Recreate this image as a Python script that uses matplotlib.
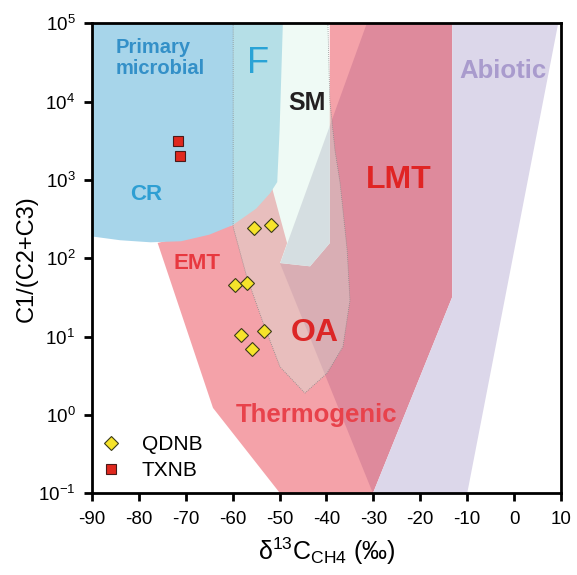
import numpy as np
import matplotlib
matplotlib.use("Agg")
import matplotlib.pyplot as plt
from matplotlib.patches import Polygon

plt.rcParams["font.family"] = ["Liberation Sans", "DejaVu Sans"]
plt.rcParams["mathtext.fontset"] = "custom"
plt.rcParams["mathtext.rm"] = "Liberation Sans"
plt.rcParams["mathtext.it"] = "Liberation Sans:italic"

# genetic fields (d13C, C1/(C2+C3))
cr_x = [-90, -90, -84, -77.5, -71, -65, -60, -55, -52, -50.5, -50, -49.3]
cr_y = [1e5, 190, 170, 160, 165, 200, 265, 430, 680, 940, 4300, 1e5]

thermo_x = [-76, -64.2, -49.9, -30.1, -31.4, -45, -52, -60]
thermo_y = [157, 1.23, 0.1, 0.1, 1e5, 1e5, 700, 265]

lmt_x = [-31.4, -13.2, -13.2, -30.1, -49.9]
lmt_y = [1e5, 1e5, 32, 0.1, 86]

abio_x = [-13.2, 9.4, -10.0, -30.1, -13.2]
abio_y = [1e5, 1e5, 0.1, 0.1, 32]

sm_x = [-52, -49.3, -39.3, -39.3, -43.5, -49.9, -48.4, -51.6]
sm_y = [1e5, 1e5, 1e5, 156, 79, 87, 156, 790]

oa_x = [-59.9, -59.9, -57.0, -53.5, -49.9, -44.6, -39.9, -36.5, -35.0, -35.6, -37.1, -38.2, -39.3, -39.7]
oa_y = [1e5, 251, 58, 15, 4.1, 1.9, 3.4, 7.4, 29, 128, 914, 2410, 10500, 1e5]

# samples
qdnb_x = [-55.4, -51.8, -59.5, -56.9, -58.3, -53.3, -55.8]
qdnb_y = [241, 267, 45.6, 48, 10.4, 11.7, 6.9]
txnb_x = [-71.6, -71.3]
txnb_y = [3170, 2020]

xticks = list(range(-90, 11, 10))
yticks = [1e-1, 1e0, 1e1, 1e2, 1e3, 1e4, 1e5]
ytick_labels = ["$10^{-1}$", "$10^{0}$", "$10^{1}$", "$10^{2}$", "$10^{3}$", "$10^{4}$", "$10^{5}$"]

fig = plt.figure(figsize=(5.77, 5.75), dpi=100)
ax = fig.add_axes([0.1594, 0.1421, 0.8129, 0.8174])
ax.set_yscale("log")
ax.set_xlim(-90, 10)
ax.set_ylim(1e-1, 1e5)


def region(xs, ys, color, z, **kw):
    p = Polygon(np.column_stack([xs, ys]), closed=True, facecolor=color,
                edgecolor="none", zorder=z, **kw)
    ax.add_patch(p)
    return p


region(thermo_x, thermo_y, "#f4a2a9", 1)
region(lmt_x, lmt_y, "#de8a9c", 2)
region(abio_x, abio_y, "#dcd7ea", 2.5)
sm = region(sm_x, sm_y, "#ffffff", 3)
# part of SM lying inside the LMT field
lmt_sm = region(lmt_x, lmt_y, "#d8d4e1", 3.5)
lmt_sm.set_clip_path(sm)
region(cr_x, cr_y, "#a7d5ea", 4)
region(oa_x, oa_y, "#d2f3e3", 5, alpha=0.35)
ax.add_patch(Polygon(np.column_stack([oa_x, oa_y]), closed=True, fill=False,
                     edgecolor="#8a8a8a", lw=0.6, ls=(0, (1, 1.5)), zorder=5.5))

# labels
ax.text(-84.9, 3.6e4, "Primary\nmicrobial", color="#3390c8", fontsize=14.5,
        fontweight="bold", ha="left", va="center", linespacing=1.08, zorder=6)
ax.text(-54.6, 3.1e4, "F", color="#29a3d6", fontsize=26, ha="center", va="center", zorder=6)
ax.text(-78.5, 650, "CR", color="#2e9fd3", fontsize=16, fontweight="bold",
        ha="center", va="center", zorder=6)
ax.text(-44.2, 9.5e3, "SM", color="#231f20", fontsize=18, fontweight="bold",
        ha="center", va="center", zorder=6)
ax.text(-24.7, 1.0e3, "LMT", color="#e02424", fontsize=23, fontweight="bold",
        ha="center", va="center", zorder=6)
ax.text(-2.4, 2.45e4, "Abiotic", color="#a99bcd", fontsize=18.5, fontweight="bold",
        ha="center", va="center", zorder=6)
ax.text(-67.6, 87, "EMT", color="#e8383f", fontsize=16, fontweight="bold",
        ha="center", va="center", zorder=6)
ax.text(-42.5, 11.1, "OA", color="#dc2626", fontsize=23, fontweight="bold",
        ha="center", va="center", zorder=6)
ax.text(-42.2, 1.0, "Thermogenic", color="#e8424b", fontsize=18.5, fontweight="bold",
        ha="center", va="center", zorder=6)

ax.plot(qdnb_x, qdnb_y, ls="none", marker="D", ms=7.5, mfc="#f6e32a",
        mec="#3a3a1a", mew=0.8, zorder=7, label="QDNB")
ax.plot(txnb_x, txnb_y, ls="none", marker="s", ms=7, mfc="#e0281e",
        mec="#4a1a1a", mew=0.8, zorder=7, label="TXNB")

leg = ax.legend(loc="lower left", bbox_to_anchor=(0.0, 0.01), frameon=False,
                fontsize=15, handlelength=1.0, handletextpad=1.0,
                labelspacing=0.35, borderaxespad=0.0)
leg.set_zorder(8)

ax.set_xticks(xticks)
ax.set_xticklabels([str(t) for t in xticks])
ax.set_yticks(yticks)
ax.set_yticklabels(ytick_labels)
ax.yaxis.set_minor_locator(matplotlib.ticker.NullLocator())
ax.tick_params(axis="both", direction="out", length=6, width=2, labelsize=13.5)
ax.tick_params(axis="x", pad=7)
ax.tick_params(axis="y", pad=6)
for s in ax.spines.values():
    s.set_linewidth(2)
    s.set_zorder(9)

ax.set_xlabel("δ$^{13}$C$_{\\mathrm{CH4}}$ (‰)", fontsize=18, labelpad=5)
ax.set_ylabel("C1/(C2+C3)", fontsize=17, labelpad=0)

fig.savefig("out.png", dpi=100)
